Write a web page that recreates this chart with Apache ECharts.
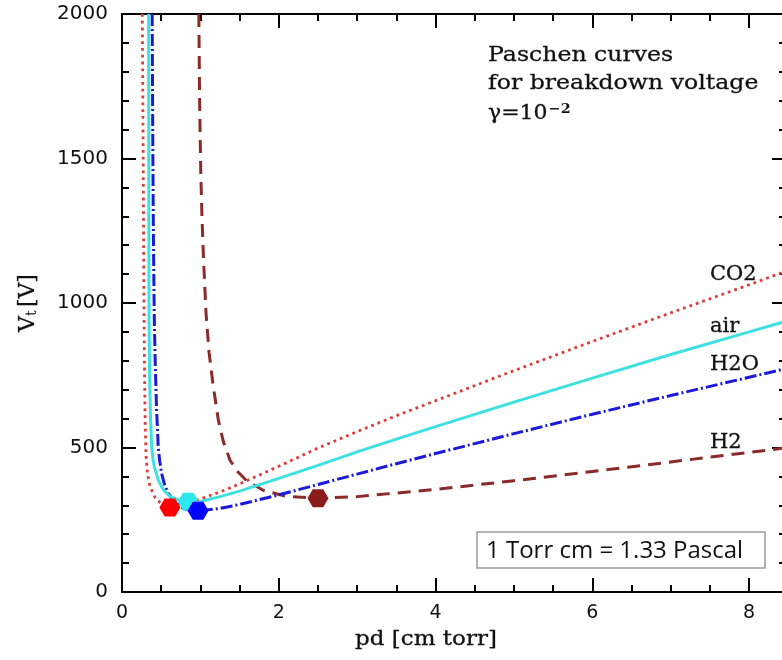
<!DOCTYPE html>
<html>
<head>
<meta charset="utf-8">
<script src="https://cdn.jsdelivr.net/npm/echarts@6/dist/echarts.min.js"></script>
<style>
  html, body { margin: 0; padding: 0; background: #fff; }
  #chart { width: 782px; height: 660px; }
</style>
</head>
<body>
<div id="chart"></div>
<script>
// Paschen breakdown-voltage curves, V_t against pd [cm torr]
const xRange = [0, 8.47];
const yRange = [0, 2000];
const xTickStep = 2;
const yTickStep = 500;

const co2Curve = [[0.259,2000],[0.266,1700],[0.272,1400],[0.277,1150],[0.281,950],[0.288,750],[0.296,580],[0.307,470],[0.325,410],[0.357,365],[0.42,328],[0.484,310],[0.55,298],[0.611,292],[0.7,296],[0.85,309],[1.0,322],[1.25,346],[1.5,374],[2.0,435],[2.5,498],[3.0,555],[3.5,610],[4.0,662],[5.0,766],[6.0,867],[7.0,966],[8.0,1063],[8.47,1110]];
const airCurve = [[0.34,2000],[0.341,1600],[0.343,1200],[0.345,940],[0.352,750],[0.362,620],[0.378,505],[0.395,460],[0.412,433],[0.462,388],[0.526,354],[0.611,331],[0.74,317],[0.845,312],[1.0,313],[1.25,330],[1.5,349],[2.0,393],[2.5,438],[3.0,485],[3.5,529],[4.0,572],[5.0,657],[6.0,740],[7.0,822],[8.0,900],[8.47,937]];
const h2oCurve = [[0.385,2000],[0.392,1600],[0.40,1250],[0.412,940],[0.425,780],[0.44,640],[0.462,502],[0.48,455],[0.505,410],[0.545,370],[0.59,341],[0.675,312],[0.78,290],[0.88,282],[0.97,281],[1.25,289],[1.5,303],[2.0,336],[2.5,372],[3.0,408],[3.5,444],[4.0,479],[5.0,548],[6.0,615],[7.0,680],[8.0,743],[8.47,773]];
const h2Curve = [[0.98,2000],[0.99,1700],[1.005,1450],[1.02,1300],[1.04,1150],[1.072,965],[1.11,830],[1.165,710],[1.229,595],[1.293,520],[1.378,456],[1.48,415],[1.59,385],[1.8,352],[2.1,331],[2.5,324],[3.0,330],[4.0,355],[5.0,385],[6.0,417],[7.0,450],[8.0,483],[8.47,499]];

// minimum of each curve
const minima = [
  { name: 'CO2', point: [0.611, 292], color: '#ff0000' },
  { name: 'air', point: [0.845, 312], color: '#2ee6ee' },
  { name: 'H2O', point: [0.97, 281], color: '#0000ff' },
  { name: 'H2',  point: [2.5, 324],  color: '#8b1c1c' }
];

const curveNames = ['CO2', 'air', 'H2O', 'H2'];
const titleLines = ['Paschen curves', 'for breakdown voltage'];
const gammaText = '{b|γ=10}{p|−2}';
const unitNote = '1 Torr cm = 1.33 Pascal';

const hexagon = 'path://M0,8.66 L5,0 L15,0 L20,8.66 L15,17.32 L5,17.32 Z';
const serif = '"DejaVu Serif", serif';
const sans = '"DejaVu Sans", sans-serif';
const axisColor = '#000';
const ink = '#111';

function xAxisDef(position, step, tickLen, labels) {
  return {
    type: 'value', min: xRange[0], max: xRange[1], interval: step, position: position,
    axisLine: { show: true, onZero: false, lineStyle: { color: axisColor, width: 2 } },
    axisTick: { show: true, inside: true, length: tickLen, lineStyle: { color: axisColor, width: 2 } },
    axisLabel: labels ? {
      show: true, margin: 12, color: ink, fontFamily: sans, fontSize: 19,
      showMinLabel: true, showMaxLabel: false, hideOverlap: false,
      formatter: v => (Math.abs(v % xTickStep) < 1e-9 ? String(v) : '')
    } : { show: false },
    splitLine: { show: false }
  };
}
function yAxisDef(position, step, tickLen, labels) {
  return {
    type: 'value', min: yRange[0], max: yRange[1], interval: step, position: position,
    axisLine: { show: true, onZero: false, lineStyle: { color: axisColor, width: 2 } },
    axisTick: { show: true, inside: true, length: tickLen, lineStyle: { color: axisColor, width: 2 } },
    axisLabel: labels ? {
      show: true, margin: 14, color: ink, fontFamily: sans, fontSize: 20,
      showMinLabel: true, showMaxLabel: true, hideOverlap: false,
      formatter: v => String(v)
    } : { show: false },
    splitLine: { show: false }
  };
}

function curveSeries(name, data, color, type, width) {
  return {
    name: name, type: 'line', data: data, showSymbol: false, symbol: 'none',
    xAxisIndex: 0, yAxisIndex: 0, z: 3, silent: true, clip: true,
    lineStyle: { color: color, width: width, type: type, cap: 'butt', join: 'round' }
  };
}

// serif annotation text, slightly emboldened with a hairline stroke
function serifText(text, x, y, scaleX, align) {
  return {
    type: 'text', x: x, y: y, scaleX: scaleX, z: 10,
    style: { text: text, font: '20px ' + serif, fill: ink, stroke: ink, lineWidth: 0.3,
             align: align, verticalAlign: 'middle' }
  };
}

const chart = echarts.init(document.getElementById('chart'), null, { renderer: 'canvas' });

chart.setOption({
  animation: false,
  backgroundColor: '#fff',
  grid: { left: 122, top: 14, width: 664, height: 578, containLabel: false, outerBoundsMode: 'none' },
  xAxis: [
    xAxisDef('bottom', xTickStep, 14, true),
    xAxisDef('bottom', 0.5, 7, false),
    xAxisDef('top', xTickStep, 14, false),
    xAxisDef('top', 0.5, 7, false)
  ],
  yAxis: [
    yAxisDef('left', yTickStep, 14, true),
    yAxisDef('left', 100, 7, false),
    yAxisDef('right', yTickStep, 14, false),
    yAxisDef('right', 100, 7, false)
  ],
  series: [
    curveSeries('H2', h2Curve, '#8b2a2a', [13, 8], 3),
    curveSeries('H2O', h2oCurve, '#1a1ad8', [12, 3, 2, 3], 3),
    curveSeries('air', airCurve, '#3fe0e0', 'solid', 3),
    curveSeries('CO2', co2Curve, '#dd3c3c', [2.8, 4], 2.8),
    {
      type: 'scatter', xAxisIndex: 0, yAxisIndex: 0, z: 5, silent: true,
      symbol: hexagon, symbolSize: [21, 18],
      data: minima.map(m => ({ value: m.point, itemStyle: { color: m.color, opacity: 1 } }))
    }
  ],
  graphic: [
    // title block
    serifText(titleLines[0], 488, 56, 1.18, 'left'),
    serifText(titleLines[1], 488, 84, 1.18, 'left'),
    {
      type: 'text', x: 488, y: 114, scaleX: 1.1, z: 10,
      style: {
        text: gammaText, align: 'left', verticalAlign: 'middle', fill: ink,
        rich: {
          b: { font: '20px ' + serif, fill: ink, stroke: ink, lineWidth: 0.3 },
          p: { font: 'bold 13px ' + serif, fill: ink, verticalAlign: 'top', padding: [0, 0, 8, 1] }
        }
      }
    },
    // curve labels
    ...curveNames.map((t, i) => serifText(t, 710, [275, 327, 365, 443][i], 1.05, 'left')),
    // unit note box
    {
      type: 'rect', z: 10,
      shape: { x: 477, y: 532, width: 288, height: 36 },
      style: { fill: '#fff', stroke: '#9a9a9a', lineWidth: 1.5 }
    },
    {
      type: 'text', x: 486, y: 551, z: 11,
      style: { text: unitNote, font: '24px "Open Sans", sans-serif', fill: ink, align: 'left', verticalAlign: 'middle' }
    },
    // axis titles
    serifText('pd [cm torr]', 426, 640, 1.15, 'center'),
    {
      type: 'text', x: 28, y: 303, rotation: Math.PI / 2, z: 10,
      style: {
        text: '{v|V}{s|t} {v|[V]}', align: 'center', verticalAlign: 'middle', fill: ink,
        rich: {
          v: { font: '22px ' + serif, fill: ink, stroke: ink, lineWidth: 0.3 },
          s: { font: '14px ' + serif, fill: ink, verticalAlign: 'bottom' }
        }
      }
    }
  ]
});
</script>
</body>
</html>
